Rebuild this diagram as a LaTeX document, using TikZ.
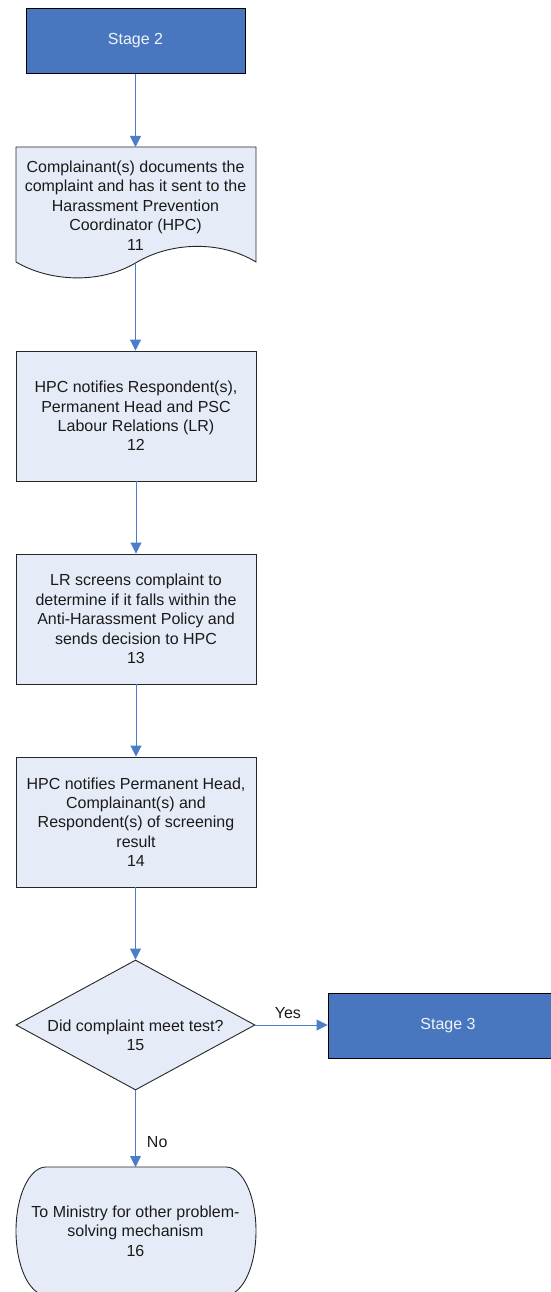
\documentclass[tikz,border=0pt]{standalone}
\usepackage{fontspec}
\setmainfont{Liberation Sans}
\usetikzlibrary{arrows.meta,shapes.geometric}
\definecolor{stageblue}{HTML}{4877BF}
\definecolor{lightfill}{HTML}{E6ECF7}
\definecolor{linkblue}{HTML}{4A7EC8}
\definecolor{ink}{HTML}{1A1A1A}
\tikzset{
  stagebox/.style={draw=black, line width=0.9pt, fill=stageblue, text=white!92!stageblue, minimum width=219pt, minimum height=65pt, inner sep=0pt, font=\fontsize{16}{19.4}\selectfont},
  procbox/.style={draw=black!85, line width=0.9pt, fill=lightfill, text=ink, minimum width=240pt, minimum height=130pt, inner sep=0pt, align=center, font=\fontsize{16}{19.4}\selectfont},
  plaintext/.style={text=ink, align=center, inner sep=0pt, font=\fontsize{16}{19.4}\selectfont},
  shapeline/.style={draw=black!85, line width=0.9pt, fill=lightfill},
  link/.style={draw=linkblue, line width=0.9pt, -{Triangle[width=11pt,length=11pt]}, fill=none},
  decision/.style={diamond, draw=black!85, line width=0.9pt, fill=lightfill, minimum width=239pt, minimum height=130pt, inner sep=0pt}
}
\begin{document}
\begin{tikzpicture}[x=1pt,y=-1pt]
\useasboundingbox (0,0) rectangle (550,1292);
% Stage 2
\node[stagebox] (s2) at (135.5,41) {Stage 2};
% Document shape 11
\draw[shapeline] (16,147) -- (256,147) -- (256,262)
  .. controls (220,240) and (170,242) .. (135.5,263)
  .. controls (100,284) and (50,282) .. (16,262) -- cycle;
\coordinate (d11top) at (135.5,147);
\coordinate (d11bot) at (135.5,263);
\node[plaintext] (n11) at (135.5,205.5) {Complainant(s) documents the\\complaint and has it sent to the\\Harassment Prevention\\Coordinator (HPC)\\11};
% Box 12
\node[procbox] (n12) at (136,416) {HPC notifies Respondent(s),\\Permanent Head and PSC\\Labour Relations (LR)\\12};
% Box 13
\node[procbox] (n13) at (136,619) {LR screens complaint to\\determine if it falls within the\\Anti-Harassment Policy and\\sends decision to HPC\\13};
% Box 14
\node[procbox] (n14) at (136,822) {HPC notifies Permanent Head,\\Complainant(s) and\\Respondent(s) of screening\\result\\14};
% Decision 15
\node[decision] (n15) at (135.5,1025) {};
\node[plaintext] (t15) at (135.5,1035.5) {Did complaint meet test?\\15};
% Stage 3
\node[stagebox, minimum width=240pt] (s3) at (448,1025.5) {Stage 3};
% Terminator 16
\draw[shapeline] (46,1167) -- (226,1167)
  .. controls (242.6,1167) and (256,1195.65) .. (256,1231)
  .. controls (256,1266.35) and (242.6,1295) .. (226,1295)
  -- (46,1295)
  .. controls (29.4,1295) and (16,1266.35) .. (16,1231)
  .. controls (16,1195.65) and (29.4,1167) .. (46,1167) -- cycle;
\coordinate (t16top) at (135.5,1167);
\node[plaintext] (n16) at (135.5,1231) {To Ministry for other problem-\\solving mechanism\\16};
% Connectors
\draw[link] (s2.south) -- (d11top);
\draw[link] (d11bot) -- (n12.north -| d11bot);
\draw[link] (n12.south) -- (n13.north);
\draw[link] (n13.south) -- (n14.north);
\draw[link] (n14.south -| n15.north) -- (n15.north);
\draw[link] (n15.east) -- node[plaintext, above=6pt, pos=0.45] (yes) {Yes} (n15.east -| s3.west);
\draw[link] (n15.south) -- node[plaintext, right=11pt, pos=0.67] (no) {No} (t16top);
\end{tikzpicture}
\end{document}
